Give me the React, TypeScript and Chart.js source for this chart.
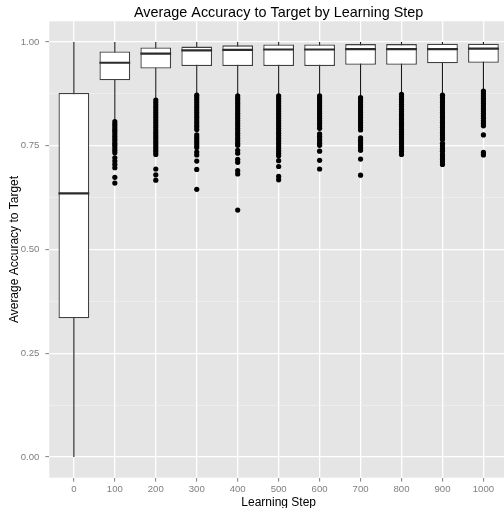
import React, { useEffect, useRef } from 'react';
import { Chart, registerables } from 'chart.js';

Chart.register(...registerables);

const steps = ['0', '100', '200', '300', '400', '500', '600', '700', '800', '900', '1000'];
const whiskerLow = [0.0, 0.812, 0.862, 0.874, 0.872, 0.872, 0.872, 0.868, 0.876, 0.874, 0.884];
const q1 = [0.334, 0.908, 0.936, 0.942, 0.942, 0.942, 0.942, 0.945, 0.945, 0.949, 0.950];
const median = [0.635, 0.950, 0.972, 0.980, 0.981, 0.982, 0.982, 0.983, 0.983, 0.983, 0.984];
const q3 = [0.877, 0.977, 0.987, 0.989, 0.992, 0.994, 0.994, 0.995, 0.995, 0.996, 0.996];
const whiskerHigh = [1.0, 1.0, 1.0, 1.0, 1.0, 1.0, 1.0, 1.0, 1.0, 1.0, 1.0];

const outliers0: number[] = [];
const outliers100 = [0.808, 0.802, 0.796, 0.790, 0.785, 0.779, 0.773, 0.767, 0.762, 0.756, 0.751, 0.745, 0.739, 0.733, 0.721, 0.713, 0.705, 0.697, 0.674, 0.660];
const outliers200 = [0.860, 0.854, 0.848, 0.842, 0.836, 0.830, 0.824, 0.818, 0.812, 0.806, 0.800, 0.794, 0.788, 0.782, 0.776, 0.770, 0.764, 0.758, 0.752, 0.746, 0.740, 0.735, 0.729, 0.694, 0.680, 0.667];
const outliers300 = [0.872, 0.866, 0.860, 0.854, 0.848, 0.842, 0.836, 0.830, 0.824, 0.818, 0.812, 0.806, 0.800, 0.795, 0.789, 0.776, 0.770, 0.764, 0.758, 0.752, 0.746, 0.735, 0.728, 0.713, 0.693, 0.645];
const outliers400 = [0.870, 0.864, 0.858, 0.852, 0.846, 0.840, 0.834, 0.828, 0.822, 0.816, 0.810, 0.804, 0.798, 0.792, 0.786, 0.780, 0.774, 0.768, 0.762, 0.756, 0.751, 0.739, 0.732, 0.717, 0.710, 0.690, 0.682, 0.595];
const outliers500 = [0.870, 0.864, 0.858, 0.852, 0.846, 0.840, 0.834, 0.828, 0.822, 0.816, 0.810, 0.804, 0.798, 0.792, 0.786, 0.780, 0.774, 0.768, 0.762, 0.756, 0.750, 0.744, 0.738, 0.732, 0.726, 0.714, 0.700, 0.676, 0.668];
const outliers600 = [0.870, 0.864, 0.858, 0.852, 0.846, 0.840, 0.834, 0.828, 0.822, 0.816, 0.810, 0.804, 0.798, 0.792, 0.779, 0.773, 0.767, 0.762, 0.756, 0.751, 0.737, 0.715, 0.694];
const outliers700 = [0.866, 0.860, 0.854, 0.848, 0.842, 0.836, 0.830, 0.824, 0.818, 0.812, 0.806, 0.800, 0.794, 0.788, 0.769, 0.763, 0.757, 0.751, 0.745, 0.739, 0.718, 0.679];
const outliers800 = [0.874, 0.868, 0.862, 0.856, 0.850, 0.844, 0.838, 0.832, 0.826, 0.820, 0.814, 0.808, 0.802, 0.796, 0.790, 0.784, 0.778, 0.772, 0.766, 0.760, 0.754, 0.748, 0.742, 0.736, 0.729];
const outliers900 = [0.872, 0.866, 0.860, 0.854, 0.848, 0.842, 0.836, 0.830, 0.824, 0.818, 0.812, 0.806, 0.800, 0.794, 0.788, 0.782, 0.776, 0.770, 0.765, 0.756, 0.750, 0.743, 0.737, 0.729, 0.723, 0.717, 0.711, 0.705];
const outliers1000 = [0.882, 0.876, 0.870, 0.864, 0.858, 0.852, 0.846, 0.840, 0.834, 0.828, 0.822, 0.816, 0.810, 0.804, 0.798, 0.776, 0.734, 0.728];
const outliers = [outliers0, outliers100, outliers200, outliers300, outliers400, outliers500, outliers600, outliers700, outliers800, outliers900, outliers1000];

const yMajorTicks = [0, 0.25, 0.5, 0.75, 1];
const yMinorTicks = [0.125, 0.375, 0.625, 0.875];
const yTickLabels = ['0.00', '0.25', '0.50', '0.75', '1.00'];

const FONT = '"Liberation Sans", Arial, Helvetica, sans-serif';
const BOX_FRACTION = 0.75;
const CANVAS_W = 512;
const CANVAS_H = 508;

const panelBg = {
  id: 'panelBg',
  beforeDraw(chart: any) {
    const { ctx, chartArea } = chart;
    ctx.save();
    ctx.fillStyle = '#E5E5E5';
    ctx.fillRect(chartArea.left, chartArea.top, chartArea.right - chartArea.left, chartArea.bottom - chartArea.top);
    ctx.restore();
  },
};

export default function App() {
  const ref = useRef<HTMLCanvasElement | null>(null);

  useEffect(() => {
    if (!ref.current) return;
    const half = BOX_FRACTION / 2;
    const medianData: any[] = [];
    const whiskerData: any[] = [];
    steps.forEach((_, i) => {
      medianData.push({ x: i - half, y: median[i] }, { x: i + half, y: median[i] }, { x: i, y: null });
      whiskerData.push({ x: i, y: whiskerLow[i] }, { x: i, y: whiskerHigh[i] }, { x: i, y: null });
    });
    const boxData = steps.map((_, i) => ({ x: i, y: [q1[i], q3[i]] }));
    const outlierData = outliers.flatMap((arr, i) => arr.map((v) => ({ x: i, y: v })));

    const chart = new Chart(ref.current, {
      type: 'scatter',
      data: {
        datasets: [
          {
            type: 'scatter',
            data: outlierData,
            pointRadius: 2.6,
            pointBackgroundColor: '#000000',
            pointBorderWidth: 0,
            order: 0,
          } as any,
          {
            type: 'line',
            data: medianData,
            borderColor: '#2B2B2B',
            borderWidth: 2.2,
            pointRadius: 0,
            spanGaps: false,
            tension: 0,
            order: 1,
          } as any,
          {
            type: 'bar',
            data: boxData,
            backgroundColor: '#FFFFFF',
            borderColor: '#404040',
            borderWidth: 1.3,
            borderSkipped: false,
            categoryPercentage: 1,
            barPercentage: BOX_FRACTION,
            order: 2,
          } as any,
          {
            type: 'line',
            data: whiskerData,
            borderColor: '#1A1A1A',
            borderWidth: 1.1,
            pointRadius: 0,
            spanGaps: false,
            tension: 0,
            order: 3,
          } as any,
        ],
      },
      options: {
        animation: false,
        responsive: false,
        events: [],
        layout: { padding: { left: 0, right: CANVAS_W - 510.7, top: 0, bottom: 0 } },
        plugins: {
          legend: { display: false },
          tooltip: { enabled: false },
          title: {
            display: true,
            text: 'Average Accuracy to Target by Learning Step',
            color: '#000000',
            font: { family: FONT, size: 14.4, weight: 'normal' as any },
            padding: { top: 4, bottom: 0 },
            fullSize: false,
          } as any,
        },
        scales: {
          x: {
            type: 'linear',
            min: -0.6,
            max: steps.length - 1 + 0.6,
            offset: false,
            afterBuildTicks: (scale: any) => {
              scale.ticks = steps.map((_, i) => ({ value: i }));
            },
            afterFit: (scale: any) => {
              scale.height = 30.3;
            },
            ticks: {
              autoSkip: false,
              maxRotation: 0,
              padding: 2,
              color: '#7F7F7F',
              font: { family: FONT, size: 9.6 },
              callback: (v: any) => steps[Math.round(Number(v))] ?? '',
            },
            grid: {
              offset: false,
              color: '#FFFFFF',
              lineWidth: 1.3,
              tickColor: '#7F7F7F',
              tickLength: 4,
              tickWidth: 1,
            },
            border: { display: false },
            title: {
              display: true,
              text: 'Learning Step',
              color: '#000000',
              font: { family: FONT, size: 12 },
              padding: { top: 0, bottom: -1.5 },
            },
          } as any,
          y: {
            type: 'linear',
            min: -0.05,
            max: 1.05,
            afterBuildTicks: (scale: any) => {
              scale.ticks = [...yMajorTicks, ...yMinorTicks].sort((a, b) => a - b).map((v) => ({ value: v }));
            },
            afterFit: (scale: any) => {
              scale.width = 49.3;
            },
            ticks: {
              autoSkip: false,
              padding: 6,
              color: '#7F7F7F',
              font: { family: FONT, size: 9.6 },
              callback: (v: any) => {
                const k = yMajorTicks.indexOf(Number(v));
                return k >= 0 ? yTickLabels[k] : '';
              },
            },
            grid: {
              color: (c: any) => (yMajorTicks.includes(c.tick?.value) ? '#FFFFFF' : '#F2F2F2'),
              lineWidth: (c: any) => (yMajorTicks.includes(c.tick?.value) ? 1.3 : 0.7),
              tickColor: (c: any) => (yMajorTicks.includes(c.tick?.value) ? '#7F7F7F' : 'rgba(0,0,0,0)'),
              tickLength: 4,
              tickWidth: 1,
            },
            border: { display: false },
            title: {
              display: true,
              text: 'Average Accuracy to Target',
              color: '#000000',
              font: { family: FONT, size: 12 },
              padding: { top: 7.3, bottom: 0 },
            },
          } as any,
        },
      },
      plugins: [panelBg],
    });
    return () => chart.destroy();
  }, []);

  return (
    <div
      style={{
        position: 'fixed',
        left: 0,
        top: 0,
        width: 504,
        height: 508,
        overflow: 'hidden',
        background: '#FFFFFF',
      }}
    >
      <canvas ref={ref} width={CANVAS_W} height={CANVAS_H} style={{ display: 'block', width: CANVAS_W, height: CANVAS_H }} />
    </div>
  );
}
